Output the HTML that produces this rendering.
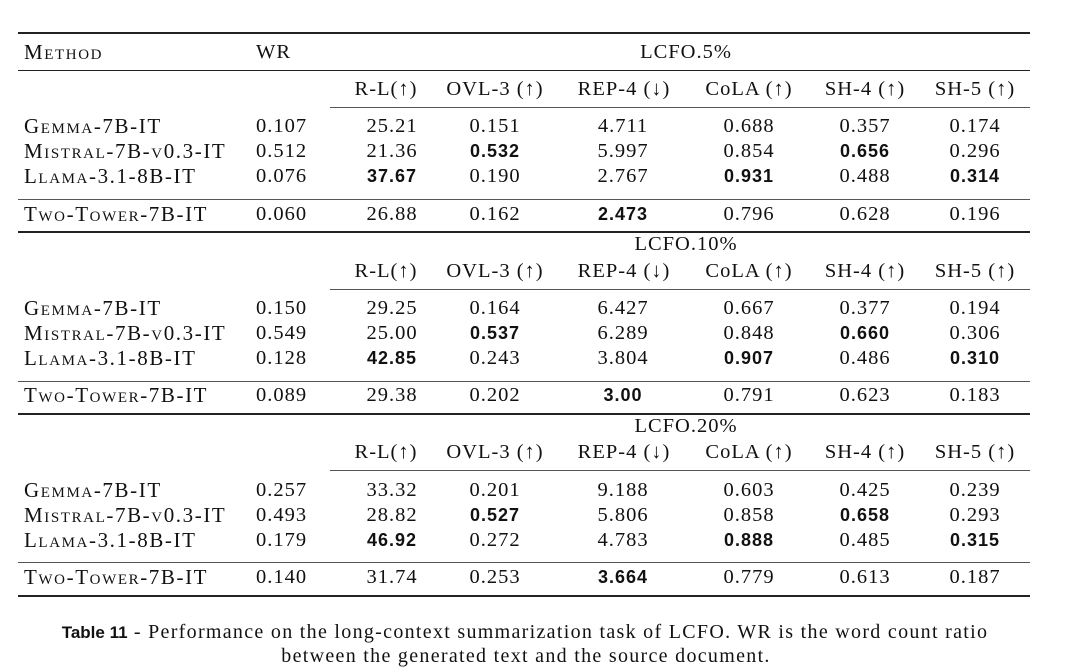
<!DOCTYPE html>
<html><head><meta charset="utf-8"><style>
body{margin:0;width:1080px;height:668px;background:#fff;position:relative;overflow:hidden;font-family:"Liberation Serif","DejaVu Serif",serif;color:#111;}
.t{position:absolute;font-size:20.5px;line-height:24px;white-space:nowrap;letter-spacing:1px;}
.c{transform:translateX(-50%);}
.sc{font-variant:small-caps;font-size:21px;letter-spacing:1.6px;}
.b{font-family:"Liberation Sans",sans-serif;font-weight:bold;font-size:18px;letter-spacing:1px;}
.l{position:absolute;left:18px;width:1012px;background:#222;}
.p{position:absolute;left:330px;width:700px;height:1px;background:#555;}
.cap{font-size:20px;letter-spacing:1.3px;}
</style></head><body>
<div class="l" style="top:32px;height:2px"></div>
<div class="l" style="top:70px;height:1px"></div>
<div class="p" style="top:107px"></div>
<div class="l" style="top:199px;height:1px;background:#555"></div>
<div class="l" style="top:231px;height:2px"></div>
<div class="p" style="top:289px"></div>
<div class="l" style="top:381px;height:1px;background:#555"></div>
<div class="l" style="top:413px;height:2px"></div>
<div class="p" style="top:470px"></div>
<div class="l" style="top:562px;height:1px;background:#555"></div>
<div class="l" style="top:595px;height:2px"></div>

<div class="t sc" style="left:24px;top:40px">Method</div>
<div class="t" style="left:256px;top:40px">WR</div>
<div class="t c" style="left:686px;top:40px">LCFO.5%</div>

<!-- block 1 -->
<div class="t c" style="left:386px;top:77px">R-L(↑)</div><div class="t c" style="left:495px;top:77px">OVL-3 (↑)</div><div class="t c" style="left:624px;top:77px">REP-4 (↓)</div><div class="t c" style="left:749px;top:77px">CoLA (↑)</div><div class="t c" style="left:865px;top:77px">SH-4 (↑)</div><div class="t c" style="left:975px;top:77px">SH-5 (↑)</div>
<div class="t sc" style="left:24px;top:114px">Gemma-7B-IT</div><div class="t" style="left:256px;top:114px">0.107</div><div class="t c" style="left:392px;top:114px">25.21</div><div class="t c" style="left:495px;top:114px">0.151</div><div class="t c" style="left:623px;top:114px">4.711</div><div class="t c" style="left:749px;top:114px">0.688</div><div class="t c" style="left:865px;top:114px">0.357</div><div class="t c" style="left:975px;top:114px">0.174</div>
<div class="t sc" style="left:24px;top:139px">Mistral-7B-v0.3-IT</div><div class="t" style="left:256px;top:139px">0.512</div><div class="t c" style="left:392px;top:139px">21.36</div><div class="t c b" style="left:495px;top:139px">0.532</div><div class="t c" style="left:623px;top:139px">5.997</div><div class="t c" style="left:749px;top:139px">0.854</div><div class="t c b" style="left:865px;top:139px">0.656</div><div class="t c" style="left:975px;top:139px">0.296</div>
<div class="t sc" style="left:24px;top:164px">Llama-3.1-8B-IT</div><div class="t" style="left:256px;top:164px">0.076</div><div class="t c b" style="left:392px;top:164px">37.67</div><div class="t c" style="left:495px;top:164px">0.190</div><div class="t c" style="left:623px;top:164px">2.767</div><div class="t c b" style="left:749px;top:164px">0.931</div><div class="t c" style="left:865px;top:164px">0.488</div><div class="t c b" style="left:975px;top:164px">0.314</div>
<div class="t sc" style="left:24px;top:202px">Two-Tower-7B-IT</div><div class="t" style="left:256px;top:202px">0.060</div><div class="t c" style="left:392px;top:202px">26.88</div><div class="t c" style="left:495px;top:202px">0.162</div><div class="t c b" style="left:623px;top:202px">2.473</div><div class="t c" style="left:749px;top:202px">0.796</div><div class="t c" style="left:865px;top:202px">0.628</div><div class="t c" style="left:975px;top:202px">0.196</div>

<!-- block 2 -->
<div class="t c" style="left:686px;top:232px">LCFO.10%</div>
<div class="t c" style="left:386px;top:259px">R-L(↑)</div><div class="t c" style="left:495px;top:259px">OVL-3 (↑)</div><div class="t c" style="left:624px;top:259px">REP-4 (↓)</div><div class="t c" style="left:749px;top:259px">CoLA (↑)</div><div class="t c" style="left:865px;top:259px">SH-4 (↑)</div><div class="t c" style="left:975px;top:259px">SH-5 (↑)</div>
<div class="t sc" style="left:24px;top:296px">Gemma-7B-IT</div><div class="t" style="left:256px;top:296px">0.150</div><div class="t c" style="left:392px;top:296px">29.25</div><div class="t c" style="left:495px;top:296px">0.164</div><div class="t c" style="left:623px;top:296px">6.427</div><div class="t c" style="left:749px;top:296px">0.667</div><div class="t c" style="left:865px;top:296px">0.377</div><div class="t c" style="left:975px;top:296px">0.194</div>
<div class="t sc" style="left:24px;top:321px">Mistral-7B-v0.3-IT</div><div class="t" style="left:256px;top:321px">0.549</div><div class="t c" style="left:392px;top:321px">25.00</div><div class="t c b" style="left:495px;top:321px">0.537</div><div class="t c" style="left:623px;top:321px">6.289</div><div class="t c" style="left:749px;top:321px">0.848</div><div class="t c b" style="left:865px;top:321px">0.660</div><div class="t c" style="left:975px;top:321px">0.306</div>
<div class="t sc" style="left:24px;top:346px">Llama-3.1-8B-IT</div><div class="t" style="left:256px;top:346px">0.128</div><div class="t c b" style="left:392px;top:346px">42.85</div><div class="t c" style="left:495px;top:346px">0.243</div><div class="t c" style="left:623px;top:346px">3.804</div><div class="t c b" style="left:749px;top:346px">0.907</div><div class="t c" style="left:865px;top:346px">0.486</div><div class="t c b" style="left:975px;top:346px">0.310</div>
<div class="t sc" style="left:24px;top:383px">Two-Tower-7B-IT</div><div class="t" style="left:256px;top:383px">0.089</div><div class="t c" style="left:392px;top:383px">29.38</div><div class="t c" style="left:495px;top:383px">0.202</div><div class="t c b" style="left:623px;top:383px">3.00</div><div class="t c" style="left:749px;top:383px">0.791</div><div class="t c" style="left:865px;top:383px">0.623</div><div class="t c" style="left:975px;top:383px">0.183</div>

<!-- block 3 -->
<div class="t c" style="left:686px;top:414px">LCFO.20%</div>
<div class="t c" style="left:386px;top:440px">R-L(↑)</div><div class="t c" style="left:495px;top:440px">OVL-3 (↑)</div><div class="t c" style="left:624px;top:440px">REP-4 (↓)</div><div class="t c" style="left:749px;top:440px">CoLA (↑)</div><div class="t c" style="left:865px;top:440px">SH-4 (↑)</div><div class="t c" style="left:975px;top:440px">SH-5 (↑)</div>
<div class="t sc" style="left:24px;top:478px">Gemma-7B-IT</div><div class="t" style="left:256px;top:478px">0.257</div><div class="t c" style="left:392px;top:478px">33.32</div><div class="t c" style="left:495px;top:478px">0.201</div><div class="t c" style="left:623px;top:478px">9.188</div><div class="t c" style="left:749px;top:478px">0.603</div><div class="t c" style="left:865px;top:478px">0.425</div><div class="t c" style="left:975px;top:478px">0.239</div>
<div class="t sc" style="left:24px;top:503px">Mistral-7B-v0.3-IT</div><div class="t" style="left:256px;top:503px">0.493</div><div class="t c" style="left:392px;top:503px">28.82</div><div class="t c b" style="left:495px;top:503px">0.527</div><div class="t c" style="left:623px;top:503px">5.806</div><div class="t c" style="left:749px;top:503px">0.858</div><div class="t c b" style="left:865px;top:503px">0.658</div><div class="t c" style="left:975px;top:503px">0.293</div>
<div class="t sc" style="left:24px;top:528px">Llama-3.1-8B-IT</div><div class="t" style="left:256px;top:528px">0.179</div><div class="t c b" style="left:392px;top:528px">46.92</div><div class="t c" style="left:495px;top:528px">0.272</div><div class="t c" style="left:623px;top:528px">4.783</div><div class="t c b" style="left:749px;top:528px">0.888</div><div class="t c" style="left:865px;top:528px">0.485</div><div class="t c b" style="left:975px;top:528px">0.315</div>
<div class="t sc" style="left:24px;top:565px">Two-Tower-7B-IT</div><div class="t" style="left:256px;top:565px">0.140</div><div class="t c" style="left:392px;top:565px">31.74</div><div class="t c" style="left:495px;top:565px">0.253</div><div class="t c b" style="left:623px;top:565px">3.664</div><div class="t c" style="left:749px;top:565px">0.779</div><div class="t c" style="left:865px;top:565px">0.613</div><div class="t c" style="left:975px;top:565px">0.187</div>

<div class="t c cap" style="left:525px;top:620px"><span style="font-family:'Liberation Sans',sans-serif;font-weight:bold;font-size:17px;letter-spacing:0">Table 11</span> - Performance on the long-context summarization task of LCFO. WR is the word count ratio</div>
<div class="t c cap" style="left:526px;top:644px">between the generated text and the source document.</div>
</body></html>
